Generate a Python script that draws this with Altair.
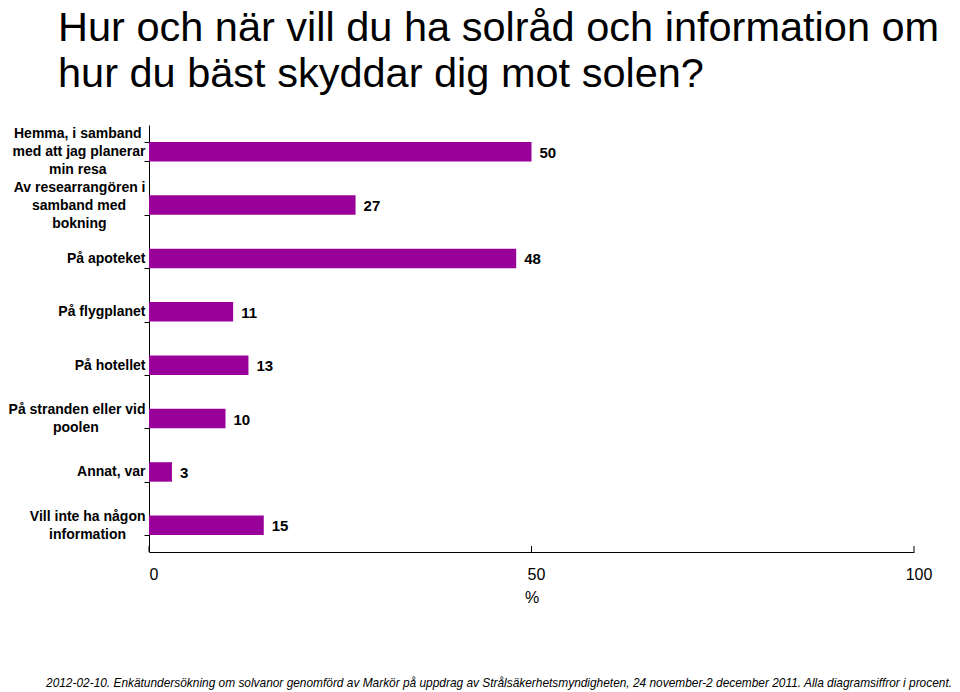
import altair as alt
import pandas as pd

# ---------------- data ----------------
title_lines = [
    "Hur och när vill du ha solråd och information om",
    "hur du bäst skyddar dig mot solen?",
]
category_lines = [
    ["Hemma, i samband", "med att jag planerar", "min resa"],
    ["Av researrangören i", "samband med", "bokning"],
    ["På apoteket"],
    ["På flygplanet"],
    ["På hotellet"],
    ["På stranden eller vid", "poolen"],
    ["Annat, var"],
    ["Vill inte ha någon", "information"],
]
values = [50, 27, 48, 11, 13, 10, 3, 15]
x_ticks = [0, 50, 100]
x_title = "%"
footer = ("2012-02-10. Enkätundersökning om solvanor genomförd av Markör på uppdrag av "
          "Strålsäkerhetsmyndigheten, 24 november-2 december 2011.  Alla diagramsiffror i procent.")

FONT = "Liberation Sans"
PURPLE = "#990099"

# approximate bold Helvetica/Arial widths (1/1000 em) to centre multi-line labels
W = {"a": 556, "b": 611, "c": 556, "d": 611, "e": 556, "f": 333, "g": 611, "h": 611,
     "i": 278, "j": 278, "k": 556, "l": 278, "m": 889, "n": 611, "o": 611, "p": 611,
     "r": 389, "s": 556, "t": 333, "u": 611, "v": 556, "y": 556, "å": 556, "ö": 611,
     ",": 278, " ": 278, "A": 722, "H": 722, "P": 667, "V": 667}


def width(s):
    return sum(W.get(ch, 556) for ch in s)


def make_label(lines):
    mw = max(width(l) for l in lines)
    out = []
    for l in lines:
        k = int(round((mw - width(l)) / 2 / 278))
        # no-break spaces kept from trimming by a trailing zero-width space
        out.append(l + ("\u00a0" * k + "\u200b" if k else ""))
    return "|".join(out)


labels = [make_label(l) for l in category_lines]
df = pd.DataFrame({"cat": labels, "value": values})

LINE_H = 18
y_enc = alt.Y(
    "cat:N",
    sort=labels,
    title=None,
    scale=alt.Scale(paddingInner=0.635, paddingOuter=0.3175),
    axis=alt.Axis(
        domainColor="black",
        tickColor="black",
        tickSize=5,
        tickBand="extent",
        labelFont=FONT,
        labelFontSize=14,
        labelFontWeight="bold",
        labelColor="black",
        labelPadding=-1,
        labelExpr="split(datum.label, '|')",
        labelLineHeight=LINE_H,
        labelLimit=400,
        labelAlign="right",
        labelBaseline="middle",
        labelOffset={
            "condition": [
                {"test": "length(split(datum.value, '|')) == 3", "value": -LINE_H},
                {"test": "length(split(datum.value, '|')) == 2", "value": -LINE_H / 2},
            ],
            "value": 0,
        },
    ),
)

x_scale = alt.Scale(domain=[0, 100], nice=False)

bars = alt.Chart(df).mark_bar(color=PURPLE).encode(
    x=alt.X(
        "value:Q",
        scale=x_scale,
        title=x_title,
        axis=alt.Axis(
            values=x_ticks,
            grid=False,
            domainColor="black",
            tickSize=0,
            labelFlush=False,
            labelOffset=4.5,
            labelFont=FONT,
            labelFontSize=16,
            labelColor="black",
            labelPadding=14,
            titleFont=FONT,
            titleFontSize=16,
            titleFontWeight="normal",
            titleColor="black",
            titlePadding=7,
        ),
    ),
    y=y_enc,
)

text = alt.Chart(df).mark_text(
    align="left", baseline="middle", dx=8, dy=1,
    fontSize=15, fontWeight="bold", font=FONT, color="black",
).encode(
    x=alt.X("value:Q", scale=x_scale, title=x_title),
    y=alt.Y("cat:N", sort=labels),
    text="value:Q",
)

ticks = alt.Chart(pd.DataFrame({"t": x_ticks})).mark_rule(color="black").encode(
    x=alt.X("t:Q", scale=x_scale, title=x_title),
    y=alt.value(421),
    y2=alt.value(427),
)

foot = alt.Chart(pd.DataFrame({"t": [footer]})).mark_text(
    font=FONT, fontSize=11.9, fontStyle="italic", color="black",
    align="center", baseline="middle",
).encode(x=alt.value(350), y=alt.value(558), text="t:N")

chart = (
    alt.layer(bars, text, ticks, foot)
    .properties(
        width=765,
        height=427,
        autosize=alt.AutoSizeParams(type="none"),
        padding={"left": 141, "top": 117, "right": 38, "bottom": 140},
        title=alt.Title(
            title_lines,
            anchor="start",
            frame="group",
            dx=-91,
            offset=-19,
            font=FONT,
            fontSize=41.5,
            fontWeight="normal",
            color="black",
            lineHeight=46,
            baseline="bottom",
        ),
    )
    .configure_view(stroke=None)
)

chart.save("out.html", embed_options={"renderer": "svg", "actions": False})
